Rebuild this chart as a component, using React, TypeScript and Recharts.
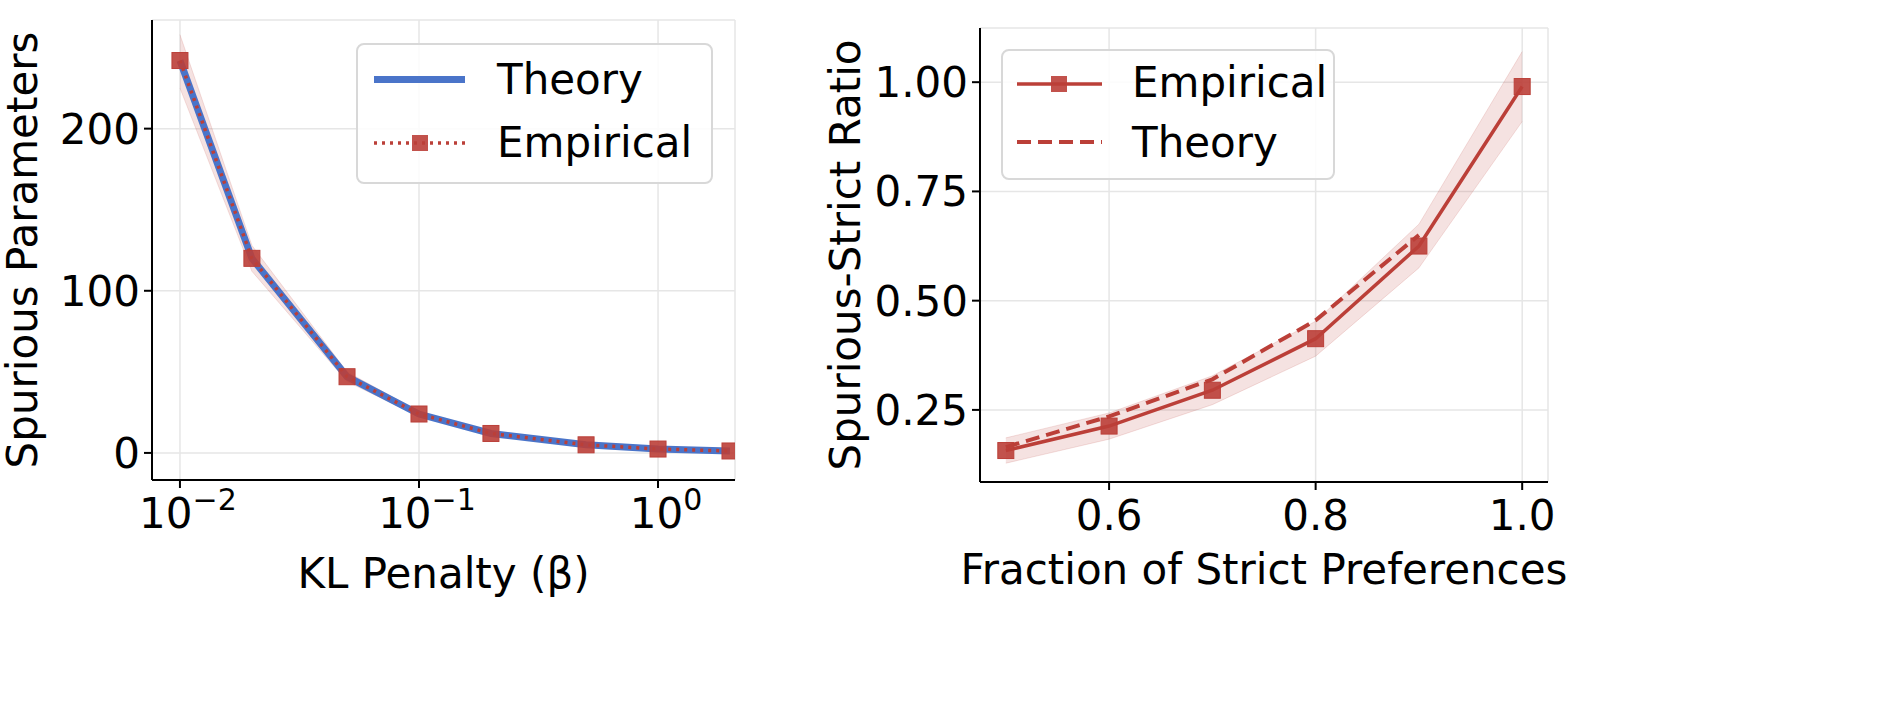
import React from "react";
import { ComposedChart, Line, Area, XAxis, YAxis, CartesianGrid } from "recharts";

const betas = [0.01, 0.02, 0.05, 0.1, 0.2, 0.5, 1, 2];
const spuriousTheory = [242, 120, 47, 24, 12, 5, 2.4, 1.2];
const spuriousEmp = [242, 120, 47, 24, 12, 5, 2.4, 1.2];
const spuriousLo = [225, 112, 44, 22.5, 11, 4.5, 2.1, 1.0];
const spuriousHi = [258, 128, 50, 25.5, 13, 5.5, 2.7, 1.4];

const fractions = [0.5, 0.6, 0.7, 0.8, 0.9, 1.0];
const ratioEmp = [0.157, 0.213, 0.295, 0.413, 0.625, 0.99];
const ratioTheory = [0.165, 0.235, 0.32, 0.455, 0.65, null];
const ratioLo = [0.128, 0.183, 0.262, 0.373, 0.575, 0.91];
const ratioHi = [0.186, 0.243, 0.328, 0.453, 0.675, 1.07];

const leftTicksX = [0.01, 0.1, 1];
const leftTicksY = [0, 100, 200];
const rightTicksX = [0.6, 0.8, 1.0];
const rightTicksY = [0.25, 0.5, 0.75, 1.0];

const RED = "#bb3f38";
const BLUE = "#4a74c9";
const FONT = "DejaVu Sans";
const FS = 42;

const leftData = betas.map((b, i) => ({ b, t: spuriousTheory[i], e: spuriousEmp[i], band: [spuriousLo[i], spuriousHi[i]] }));
const rightData = fractions.map((f, i) => ({ f, e: ratioEmp[i], t: ratioTheory[i], band: [ratioLo[i], ratioHi[i]] }));

const Sq = (props: any) => {
  const { cx, cy } = props;
  if (cx == null || cy == null) return null;
  return <rect x={cx - 8} y={cy - 8} width={16} height={16} fill={RED} fillOpacity={0.9} stroke={RED} />;
};

const LogTick = (props: any) => {
  const { x, y, payload } = props;
  const exp = Math.round(Math.log10(payload.value));
  return (
    <text x={x + 8} y={y + 38} textAnchor="middle" fontSize={FS} fontFamily={FONT} fill="#000">
      10<tspan dy={-18} fontSize={30}>{exp < 0 ? "\u2212" + -exp : String(exp)}</tspan>
    </text>
  );
};

const NumTick = (props: any) => {
  const { x, y, payload, fmt, axis } = props;
  if (axis === "x") {
    return <text x={x} y={y + 38} textAnchor="middle" fontSize={FS} fontFamily={FONT} fill="#000">{fmt(payload.value)}</text>;
  }
  return <text x={x - 2} y={y + 15} textAnchor="end" fontSize={FS} fontFamily={FONT} fill="#000">{fmt(payload.value)}</text>;
};

const legendBox: React.CSSProperties = {
  position: "absolute", border: "2px solid #d8d8d8", borderRadius: 8, background: "rgba(255,255,255,0.85)",
  fontFamily: FONT, fontSize: FS, color: "#000", boxSizing: "border-box", lineHeight: "49px",
};

export default function App() {
  return (
    <div style={{ position: "absolute", left: 0, top: 0, width: 1886, height: 724, background: "#fff" }}>
      <div style={{ position: "absolute", left: 0, top: 0 }}>
        <ComposedChart width={760} height={724} data={leftData} margin={{ top: 20, right: 25, left: 0, bottom: 134 }}>
          <CartesianGrid stroke="#e6e6e6" strokeWidth={1.5} />
          <XAxis dataKey="b" type="number" scale="log" domain={[0.00764, 2.099]} allowDataOverflow ticks={leftTicksX}
            tick={<LogTick />} height={110} stroke="#000" strokeWidth={2} tickSize={8}
            label={{ value: "KL Penalty (\u03b2)", position: "insideBottom", offset: 2, fontSize: FS, fontFamily: FONT, fill: "#000" }} />
          <XAxis xAxisId="top" orientation="top" dataKey="b" type="number" scale="log" domain={[0.00764, 2.099]} allowDataOverflow tick={false} tickLine={false} height={0} stroke="#000" strokeWidth={2} />
          <YAxis type="number" domain={[-16.7, 267]} allowDataOverflow ticks={leftTicksY} width={152}
            tick={<NumTick axis="y" fmt={(v: number) => String(v)} />} stroke="#000" strokeWidth={2} tickSize={8} />
          <YAxis yAxisId="r" orientation="right" domain={[0, 1]} tick={false} tickLine={false} width={0} stroke="#000" strokeWidth={2} />
          <Area dataKey="band" stroke={RED} strokeOpacity={0.15} fill={RED} fillOpacity={0.15} isAnimationActive={false} />
          <Line dataKey="t" stroke={BLUE} strokeWidth={7} dot={false} isAnimationActive={false} />
          <Line dataKey="e" stroke={RED} strokeWidth={3.5} strokeDasharray="3 5" dot={<Sq />} isAnimationActive={false} />
        </ComposedChart>
        <div style={{ ...legendBox, left: 356, top: 43, width: 357, height: 141 }}>
          <div style={{ position: "absolute", left: 16, top: 31, width: 91, height: 7, background: BLUE }} />
          <div style={{ position: "absolute", left: 139, top: 10 }}>Theory</div>
          <svg style={{ position: "absolute", left: 14, top: 86 }} width={96} height={24}>
            <line x1={2} y1={12} x2={94} y2={12} stroke={RED} strokeWidth={3.5} strokeDasharray="3 5" />
            <rect x={40} y={4} width={16} height={16} fill={RED} fillOpacity={0.9} />
          </svg>
          <div style={{ position: "absolute", left: 139, top: 73 }}>Empirical</div>
        </div>
      </div>

      <div style={{ position: "absolute", left: 820, top: 0 }}>
        <ComposedChart width={748} height={724} data={rightData} margin={{ top: 28, right: 20, left: 0, bottom: 132 }}>
          <CartesianGrid stroke="#e6e6e6" strokeWidth={1.5} />
          <XAxis dataKey="f" type="number" domain={[0.475, 1.025]} allowDataOverflow ticks={rightTicksX}
            tick={<NumTick axis="x" fmt={(v: number) => v.toFixed(1)} />} height={110} stroke="#000" strokeWidth={2} tickSize={8}
            label={{ value: "Fraction of Strict Preferences", position: "insideBottom", offset: 8, fontSize: FS, fontFamily: FONT, fill: "#000" }} />
          <XAxis xAxisId="top" orientation="top" dataKey="f" type="number" domain={[0.475, 1.025]} tick={false} tickLine={false} height={0} stroke="#000" strokeWidth={2} />
          <YAxis type="number" domain={[0.085, 1.124]} allowDataOverflow ticks={rightTicksY} width={160}
            tick={<NumTick axis="y" fmt={(v: number) => v.toFixed(2)} />} stroke="#000" strokeWidth={2} tickSize={8} />
          <YAxis yAxisId="r" orientation="right" domain={[0, 1]} tick={false} tickLine={false} width={0} stroke="#000" strokeWidth={2} />
          <Area dataKey="band" stroke={RED} strokeOpacity={0.15} fill={RED} fillOpacity={0.15} isAnimationActive={false} />
          <Line dataKey="t" stroke={RED} strokeWidth={4} strokeDasharray="14 7" dot={false} connectNulls={false} isAnimationActive={false} />
          <Line dataKey="e" stroke={RED} strokeWidth={3.5} dot={<Sq />} isAnimationActive={false} />
        </ComposedChart>
        <div style={{ ...legendBox, left: 181, top: 49, width: 334, height: 131 }}>
          <svg style={{ position: "absolute", left: 12, top: 21 }} width={89} height={24}>
            <line x1={2} y1={12} x2={87} y2={12} stroke={RED} strokeWidth={3.5} />
            <rect x={36} y={4} width={16} height={16} fill={RED} fillOpacity={0.9} />
          </svg>
          <div style={{ position: "absolute", left: 129, top: 7 }}>Empirical</div>
          <svg style={{ position: "absolute", left: 12, top: 81 }} width={89} height={20}>
            <line x1={2} y1={10} x2={87} y2={10} stroke={RED} strokeWidth={4} strokeDasharray="14 7" />
          </svg>
          <div style={{ position: "absolute", left: 129, top: 67 }}>Theory</div>
        </div>
      </div>

      <svg style={{ position: "absolute", left: 0, top: 0, pointerEvents: "none" }} width={1886} height={724}>
        <text transform="translate(22,250) rotate(-90)" textAnchor="middle" dominantBaseline="central" fontSize={FS} fontFamily={FONT} fill="#000">Spurious Parameters</text>
        <text transform="translate(845,255) rotate(-90)" textAnchor="middle" dominantBaseline="central" fontSize={FS} fontFamily={FONT} fill="#000">Spurious-Strict Ratio</text>
      </svg>
    </div>
  );
}
